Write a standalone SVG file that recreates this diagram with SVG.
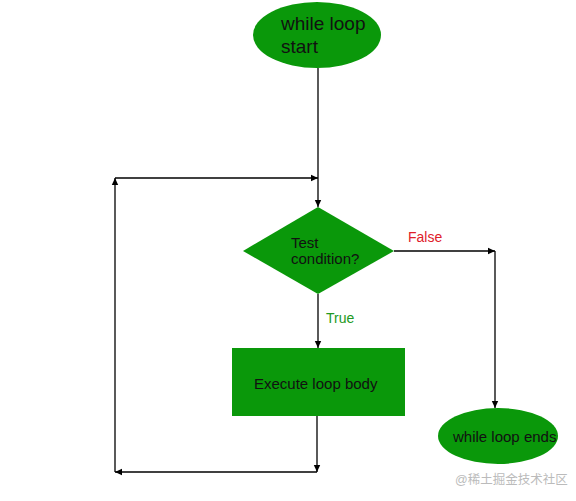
<svg xmlns="http://www.w3.org/2000/svg" width="576" height="501" viewBox="0 0 576 501">
<style>
.node{fill:#0a980a;stroke:none}
.lbl{font-family:"Liberation Sans",Arial,sans-serif;fill:#111}
.edge{stroke:#000;stroke-width:1.3;fill:none;marker-end:url(#ah)}
</style>
<defs>
<marker id="ah" markerWidth="8" markerHeight="8" refX="7" refY="4" orient="auto" markerUnits="userSpaceOnUse">
<path d="M0,0.8 L7,4 L0,7.2 Z" fill="#000"/>
</marker>
</defs>
<rect width="576" height="501" fill="#fff"/>
<g id="connectors">
<path class="edge" d="M318,68 L318,207"/>
<path class="edge" d="M115,178 L318,178"/>
<path class="edge" d="M318,294 L318,348"/>
<path class="edge" d="M317,416 L317,472"/>
<path class="edge" d="M317,472 L115,472"/>
<path class="edge" d="M115,472 L115,178"/>
<path class="edge" d="M394,251 L495,251"/>
<path class="edge" d="M495,251 L495,408"/>
<text x="408" y="242" font-family="Liberation Sans,Arial,sans-serif" font-size="14" fill="#e0202a">False</text>
<text x="326" y="323" font-family="Liberation Sans,Arial,sans-serif" font-size="14" fill="#229922">True</text>
</g>
<g id="start">
<ellipse class="node" cx="317" cy="35" rx="64" ry="33"/>
<text class="lbl" x="281" y="30" font-size="19">while loop</text>
<text class="lbl" x="281" y="53" font-size="19">start</text>
</g>
<g id="condition">
<polygon class="node" points="318,207 394,251 318,294 243,251"/>
<text class="lbl" x="291" y="248" font-size="15">Test</text>
<text class="lbl" x="291" y="264" font-size="15">condition?</text>
</g>
<g id="body">
<rect class="node" x="232" y="348" width="173" height="68"/>
<text class="lbl" x="254" y="389" font-size="15">Execute loop body</text>
</g>
<g id="end">
<ellipse class="node" cx="498" cy="436" rx="60" ry="28"/>
<text class="lbl" x="453" y="442" font-size="15">while loop ends</text>
</g>
<text x="455" y="484" font-family="Liberation Sans,'Noto Sans CJK SC',sans-serif" font-size="12.5" fill="#bbbbbb">@稀土掘金技术社区</text>
</svg>
